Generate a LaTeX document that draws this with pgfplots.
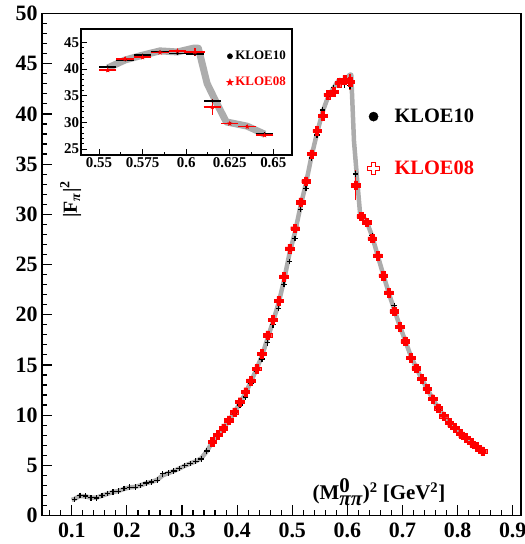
\documentclass[border=0pt]{standalone}
\usepackage{fontspec}
\setmainfont{Liberation Serif}
\usepackage{pgfplots}
\usepackage{pgfplotstable}
\pgfplotsset{compat=1.18}
\definecolor{band}{RGB}{172,172,172}

\pgfdeclareplotmark{fcross}{%
 \pgfpathmoveto{\pgfqpoint{-0.38\pgfplotmarksize}{\pgfplotmarksize}}%
 \pgfpathlineto{\pgfqpoint{0.38\pgfplotmarksize}{\pgfplotmarksize}}%
 \pgfpathlineto{\pgfqpoint{0.38\pgfplotmarksize}{0.38\pgfplotmarksize}}%
 \pgfpathlineto{\pgfqpoint{\pgfplotmarksize}{0.38\pgfplotmarksize}}%
 \pgfpathlineto{\pgfqpoint{\pgfplotmarksize}{-0.38\pgfplotmarksize}}%
 \pgfpathlineto{\pgfqpoint{0.38\pgfplotmarksize}{-0.38\pgfplotmarksize}}%
 \pgfpathlineto{\pgfqpoint{0.38\pgfplotmarksize}{-\pgfplotmarksize}}%
 \pgfpathlineto{\pgfqpoint{-0.38\pgfplotmarksize}{-\pgfplotmarksize}}%
 \pgfpathlineto{\pgfqpoint{-0.38\pgfplotmarksize}{-0.38\pgfplotmarksize}}%
 \pgfpathlineto{\pgfqpoint{-\pgfplotmarksize}{-0.38\pgfplotmarksize}}%
 \pgfpathlineto{\pgfqpoint{-\pgfplotmarksize}{0.38\pgfplotmarksize}}%
 \pgfpathlineto{\pgfqpoint{-0.38\pgfplotmarksize}{0.38\pgfplotmarksize}}%
 \pgfpathclose\pgfusepathqfillstroke}
\pgfdeclareplotmark{ocross}{%
 \pgfpathmoveto{\pgfqpoint{-0.3\pgfplotmarksize}{\pgfplotmarksize}}%
 \pgfpathlineto{\pgfqpoint{0.3\pgfplotmarksize}{\pgfplotmarksize}}%
 \pgfpathlineto{\pgfqpoint{0.3\pgfplotmarksize}{0.3\pgfplotmarksize}}%
 \pgfpathlineto{\pgfqpoint{\pgfplotmarksize}{0.3\pgfplotmarksize}}%
 \pgfpathlineto{\pgfqpoint{\pgfplotmarksize}{-0.3\pgfplotmarksize}}%
 \pgfpathlineto{\pgfqpoint{0.3\pgfplotmarksize}{-0.3\pgfplotmarksize}}%
 \pgfpathlineto{\pgfqpoint{0.3\pgfplotmarksize}{-\pgfplotmarksize}}%
 \pgfpathlineto{\pgfqpoint{-0.3\pgfplotmarksize}{-\pgfplotmarksize}}%
 \pgfpathlineto{\pgfqpoint{-0.3\pgfplotmarksize}{-0.3\pgfplotmarksize}}%
 \pgfpathlineto{\pgfqpoint{-\pgfplotmarksize}{-0.3\pgfplotmarksize}}%
 \pgfpathlineto{\pgfqpoint{-\pgfplotmarksize}{0.3\pgfplotmarksize}}%
 \pgfpathlineto{\pgfqpoint{-0.3\pgfplotmarksize}{0.3\pgfplotmarksize}}%
 \pgfpathclose\pgfusepathqstroke}
\pgfdeclareplotmark{fstar}{%
 \pgfpathmoveto{\pgfpointpolar{90}{\pgfplotmarksize}}%
 \pgfpathlineto{\pgfpointpolar{126}{0.4\pgfplotmarksize}}%
 \pgfpathlineto{\pgfpointpolar{162}{\pgfplotmarksize}}%
 \pgfpathlineto{\pgfpointpolar{198}{0.4\pgfplotmarksize}}%
 \pgfpathlineto{\pgfpointpolar{234}{\pgfplotmarksize}}%
 \pgfpathlineto{\pgfpointpolar{270}{0.4\pgfplotmarksize}}%
 \pgfpathlineto{\pgfpointpolar{306}{\pgfplotmarksize}}%
 \pgfpathlineto{\pgfpointpolar{342}{0.4\pgfplotmarksize}}%
 \pgfpathlineto{\pgfpointpolar{18}{\pgfplotmarksize}}%
 \pgfpathlineto{\pgfpointpolar{54}{0.4\pgfplotmarksize}}%
 \pgfpathclose\pgfusepathqfillstroke}

% KLOE10
\pgfplotstableread{
x y ex ey
0.105 1.59 0.005 0.1
0.115 1.99 0.005 0.1
0.125 1.93 0.005 0.1
0.135 1.76 0.005 0.1
0.145 1.73 0.005 0.1
0.155 1.99 0.005 0.1
0.165 2.19 0.005 0.1
0.175 2.36 0.005 0.1
0.185 2.42 0.005 0.1
0.195 2.69 0.005 0.1
0.205 2.82 0.005 0.1
0.215 2.82 0.005 0.1
0.225 2.99 0.005 0.1
0.235 3.25 0.005 0.1
0.245 3.35 0.005 0.1
0.255 3.52 0.005 0.1
0.265 4.15 0.005 0.1
0.275 4.25 0.005 0.1
0.285 4.42 0.005 0.1
0.295 4.68 0.005 0.1
0.305 4.98 0.005 0.1
0.315 5.18 0.005 0.1
0.325 5.41 0.005 0.1
0.335 5.64 0.005 0.1
0.345 6.41 0.005 0.1
0.355 7.2 0.005 0.1
0.365 7.9 0.005 0.1
0.375 8.6 0.005 0.1
0.385 9.4 0.005 0.1
0.395 10.1 0.005 0.1
0.405 11.0 0.005 0.1
0.415 11.8 0.005 0.1
0.425 13.2 0.005 0.1
0.435 14.4 0.005 0.1
0.445 15.6 0.005 0.1
0.455 17.2 0.005 0.1
0.465 19.0 0.005 0.1
0.475 20.6 0.005 0.1
0.485 23.0 0.005 0.1
0.495 25.3 0.005 0.1
0.505 27.6 0.005 0.2
0.515 30.5 0.005 0.2
0.525 32.6 0.005 0.2
0.535 35.6 0.005 0.2
0.545 37.9 0.005 0.2
0.555 40.4 0.005 0.2
0.565 41.7 0.005 0.2
0.575 42.6 0.005 0.2
0.585 43.2 0.005 0.2
0.595 42.9 0.005 0.2
0.605 42.8 0.005 0.3
0.615 34.0 0.005 0.4
0.625 29.8 0.005 0.2
0.635 29.2 0.005 0.2
0.645 27.9 0.005 0.2
0.655 25.8 0.005 0.2
0.665 23.8 0.005 0.2
0.675 22.0 0.005 0.2
0.685 20.9 0.005 0.2
0.695 18.7 0.005 0.2
0.705 17.3 0.005 0.2
0.715 15.8 0.005 0.1
0.725 14.6 0.005 0.1
0.735 13.5 0.005 0.1
0.745 12.5 0.005 0.1
0.755 11.5 0.005 0.1
0.765 10.6 0.005 0.1
0.775 9.85 0.005 0.1
0.785 9.2 0.005 0.1
0.795 8.65 0.005 0.1
0.805 8.1 0.005 0.1
0.815 7.7 0.005 0.1
0.825 7.2 0.005 0.1
0.835 6.8 0.005 0.1
0.845 6.4 0.005 0.1
}\kloeten

% KLOE08
\pgfplotstableread{
x y ex ey
0.355 7.35 0.005 0.1
0.365 8.05 0.005 0.1
0.375 8.7 0.005 0.1
0.385 9.5 0.005 0.1
0.395 10.3 0.005 0.1
0.405 11.3 0.005 0.1
0.415 12.3 0.005 0.1
0.425 13.45 0.005 0.1
0.435 14.6 0.005 0.1
0.445 16.1 0.005 0.1
0.455 17.95 0.005 0.1
0.465 19.5 0.005 0.1
0.475 21.4 0.005 0.1
0.485 23.8 0.005 0.1
0.495 26.6 0.005 0.2
0.505 28.6 0.005 0.2
0.515 31.2 0.005 0.2
0.525 33.3 0.005 0.2
0.535 36.0 0.005 0.2
0.545 38.3 0.005 0.2
0.555 39.8 0.005 0.3
0.565 41.9 0.005 0.3
0.575 42.2 0.005 0.3
0.585 43.1 0.005 0.3
0.595 43.4 0.005 0.3
0.605 43.2 0.006 0.8
0.615 32.9 0.005 1.5
0.625 29.8 0.005 0.2
0.635 29.2 0.005 0.3
0.645 27.6 0.005 0.2
0.655 25.9 0.005 0.2
0.665 23.9 0.005 0.2
0.675 22.2 0.005 0.2
0.685 20.35 0.005 0.2
0.695 18.8 0.005 0.2
0.705 17.36 0.005 0.2
0.715 15.7 0.005 0.1
0.725 14.67 0.005 0.1
0.735 13.6 0.005 0.1
0.745 12.6 0.005 0.1
0.755 11.6 0.005 0.1
0.765 10.7 0.005 0.1
0.775 9.9 0.005 0.1
0.785 9.23 0.005 0.1
0.795 8.73 0.005 0.1
0.805 8.17 0.005 0.1
0.815 7.74 0.005 0.1
0.825 7.24 0.005 0.1
0.835 6.84 0.005 0.1
0.845 6.40 0.005 0.1
}\kloeeight

% fit curve (grey band)
\pgfplotstableread{
x y
0.100 1.55
0.105 1.65
0.115 1.95
0.125 1.9
0.135 1.78
0.145 1.78
0.155 1.97
0.165 2.17
0.175 2.33
0.185 2.45
0.195 2.65
0.205 2.8
0.215 2.85
0.225 3.0
0.235 3.22
0.245 3.35
0.255 3.55
0.265 4.0
0.275 4.22
0.285 4.42
0.295 4.68
0.305 4.95
0.315 5.18
0.325 5.4
0.335 5.7
0.345 6.4
0.355 7.3
0.365 8.0
0.375 8.65
0.385 9.45
0.395 10.25
0.405 11.2
0.415 12.15
0.425 13.35
0.435 14.55
0.445 15.9
0.455 17.6
0.465 19.3
0.475 21.1
0.485 23.4
0.495 26.1
0.505 28.2
0.515 30.8
0.525 33.1
0.535 35.8
0.545 38.1
0.555 40.2
0.565 41.7
0.575 42.6
0.585 43.4
0.595 43.2
0.604 43.9
0.607 43.9
0.612 37.3
0.6175 33.6
0.623 30.1
0.635 29.3
0.645 27.8
0.655 25.9
0.665 24.0
0.675 22.2
0.685 20.5
0.695 18.9
0.705 17.4
0.715 15.9
0.725 14.7
0.735 13.6
0.745 12.6
0.755 11.6
0.765 10.7
0.775 9.9
0.785 9.25
0.795 8.7
0.805 8.15
0.815 7.7
0.825 7.25
0.835 6.85
0.845 6.4
}\fitcurve

\begin{document}
\begin{tikzpicture}
\path[use as bounding box] (-42bp,-28.5bp) rectangle (483bp,515.5bp);
\begin{axis}[
  at={(0,0)}, anchor=south west,
  scale only axis, width=479bp, height=502bp,
  xmin=0.046, xmax=0.915, ymin=0, ymax=50,
  xtick distance=0.1, ytick distance=5,
  minor x tick num=4, minor y tick num=4,
  tick align=inside, tick pos=left,
  major tick length=10bp, minor tick length=5bp,
  tick style={black, line width=1.2bp},
  axis line style={line width=1.8bp},
  ticklabel style={font=\fontsize{22}{24}\selectfont\bfseries},
  /pgf/number format/assume math mode=true,
  xticklabel style={yshift=-4bp},
  yticklabel style={xshift=-1bp},
  legend style={draw=none, fill=none, at={(0.673,0.818)}, anchor=north west,
    row sep=33bp, font=\fontsize{20.5}{22}\selectfont\bfseries,
    /tikz/every odd column/.append style={column sep=13bp}},
  legend cell align=left,
]
\addplot[band, line width=4.5bp, line join=round, forget plot] table[x=x,y=y]{\fitcurve};
\addplot[only marks, mark=+, mark size=2.8bp, line width=1.3bp, black, forget plot] table[x=x,y=y]{\kloeten};
\addplot[only marks, mark=fcross, mark size=4.3bp, red, fill=red, line width=0.4bp, forget plot,
  error bars/y dir=both, error bars/y explicit, error bars/error mark=none,
  error bars/error bar style={line width=1.3bp, red}] table[x=x,y=y,y error=ey]{\kloeeight};
\addlegendimage{only marks, mark=*, mark size=4.6bp, black}
\addlegendentry{KLOE10}
\addlegendimage{only marks, mark=ocross, mark size=6bp, red, line width=0.9bp}
\addlegendentry{\textcolor{red}{KLOE08}}
\node[rotate=90, font=\fontsize{20}{22}\selectfont\bfseries] at (rel axis cs:0.06,0.63) {|F\textsubscript{\textit{π}}|\textsuperscript{2}};
\node[font=\fontsize{21}{23}\selectfont\bfseries] at (rel axis cs:0.7035,0.047) {(M$^{\textbf{0}}_{\textit{ππ}}$)\textsuperscript{2} [GeV\textsuperscript{2}]};
\end{axis}

\begin{axis}[
  at={(38.7bp,360.5bp)}, anchor=south west,
  scale only axis, width=211.3bp, height=126bp,
  xmin=0.5395, xmax=0.6607, ymin=23.9, ymax=47.5,
  xtick={0.55,0.575,0.6,0.625,0.65}, xticklabels={0.55,0.575,0.6,0.625,0.65},
  ytick={25,30,35,40,45},
  minor x tick num=1, minor y tick num=4,
  tick align=inside, tick pos=left,
  major tick length=6bp, minor tick length=3bp,
  tick style={black, line width=1bp},
  axis line style={line width=1.6bp},
  axis background/.style={fill=white},
  ticklabel style={font=\fontsize{15}{17}\selectfont\bfseries},
  /pgf/number format/assume math mode=true,
  xticklabel style={yshift=1bp},
  yticklabel style={xshift=2bp},
  legend style={draw=none, fill=none, at={(0.675,0.857)}, anchor=north west,
    row sep=12bp, font=\fontsize{13}{15}\selectfont\bfseries},
  legend cell align=left,
]
\addplot[band, line width=7bp, line join=round, forget plot, restrict x to domain=0.55:0.65] table[x=x,y=y]{\fitcurve};
\addplot[only marks, mark=*, mark size=1.3bp, black, forget plot, restrict x to domain=0.55:0.65,
  error bars/x dir=both, error bars/x explicit, error bars/y dir=both, error bars/y explicit,
  error bars/error mark=none, error bars/error bar style={line width=1.6bp, black}]
  table[x=x,y=y,x error=ex,y error=ey]{\kloeten};
\addplot[only marks, mark=fstar, mark size=2.2bp, red, fill=red, forget plot, restrict x to domain=0.55:0.65,
  error bars/x dir=both, error bars/x explicit, error bars/y dir=both, error bars/y explicit,
  error bars/error mark=none, error bars/error bar style={line width=1.6bp, red}]
  table[x=x,y=y,x error=ex,y error=ey]{\kloeeight};
\addlegendimage{only marks, mark=*, mark size=2.6bp, black}
\addlegendentry{KLOE10}
\addlegendimage{only marks, mark=fstar, mark size=3.6bp, red, fill=red}
\addlegendentry{\textcolor{red}{KLOE08}}
\end{axis}
\end{tikzpicture}
\end{document}
